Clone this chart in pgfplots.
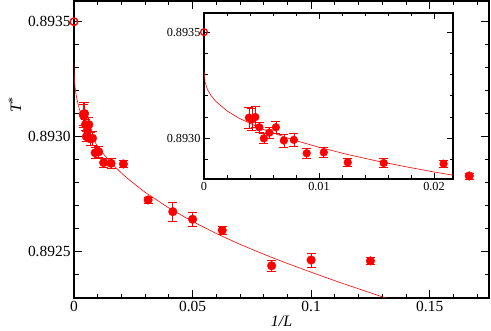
\documentclass[border=0pt]{standalone}
\usepackage{fontspec}
\setmainfont{Liberation Serif}
\usepackage{pgfplots}
\pgfplotsset{compat=1.18}
\usepackage{pgfplotstable}

% 1/L, T*, error
\pgfplotstableread{
x y e
0.003906 0.893098 0.00005
0.004167 0.893090 0.00005
0.004464 0.893101 0.00005
0.004808 0.893053 0.000024
0.005208 0.893001 0.000022
0.005682 0.893028 0.000025
0.00625  0.893053 0.00003
0.006944 0.892991 0.00003
0.007813 0.892994 0.00003
0.008929 0.892931 0.000023
0.010417 0.892935 0.000022
0.0125   0.892888 0.00002
0.015625 0.892885 0.00002
0.020833 0.892882 0.000015
0.03125  0.892726 0.000013
0.041667 0.892675 0.00004
0.05     0.892642 0.00003
0.0625   0.892594 0.000017
0.083333 0.892440 0.000025
0.1      0.892465 0.00003
0.125    0.892461 0.000017
0.166667 0.892830 0.000013
}\simdata

% fitted curve
\pgfplotstableread{
x y
0      0.893320
0.0001 0.893263
0.0003 0.893231
0.0006 0.893203
0.001  0.893176
0.002  0.893130
0.003  0.893097
0.005  0.893046
0.0075 0.892998
0.01   0.892959
0.0125 0.892925
0.015  0.892895
0.0175 0.892868
0.02   0.892843
0.0225 0.892820
0.025  0.892799
0.03   0.892759
0.04   0.892691
0.05   0.892632
0.06   0.892580
0.07   0.892533
0.08   0.892490
0.09   0.892450
0.1    0.892412
0.11   0.892375
0.12   0.892340
0.13   0.892305
0.14   0.892270
}\fitdata

\pgfplotsset{
  grace/.style={
    scale only axis,
    scaled ticks=false,
    tick align=inside,
    axis line style={line width=1.5bp},
    tick style={black, line width=1bp},
    clip mode=individual,
    axis background/.style={fill=white},
  },
}

\begin{document}
\begin{tikzpicture}
\useasboundingbox (0,0) rectangle (491bp,331bp);
% main axis
\begin{axis}[grace,
  at={(74bp,33bp)}, anchor=south west,
  width=415bp, height=297bp,
  xmin=0, xmax=0.175, ymin=0.8923, ymax=0.89359,
  xtick={0,0.05,0.1,0.15}, xticklabels={0,0.05,0.1,0.15},
  minor xtick={0.01,0.02,0.03,0.04,0.06,0.07,0.08,0.09,0.11,0.12,0.13,0.14,0.16,0.17},
  ytick={0.8925,0.893,0.8935}, yticklabels={0.8925,0.8930,0.8935},
  minor ytick={0.8924,0.8926,0.8927,0.8928,0.8929,0.8931,0.8932,0.8933,0.8934},
  major tick length=8bp, minor tick length=4.5bp,
  tick label style={font=\fontsize{15.5}{16}\selectfont},
  label style={font=\fontsize{16}{17}\selectfont},
  xlabel={\textit{1/L}},
  xlabel style={yshift=3bp},
  ylabel={\textit{T}\raisebox{0.3em}{\fontsize{12}{12}\selectfont *}},
  ylabel style={at={(ticklabel cs:0.65)}},
]
\addplot[red, line width=0.6bp, no marks] table[x=x, y=y] {\fitdata};
\addplot[red, only marks, mark=*, mark size=4.3bp,
  error bars/.cd, y dir=both, y explicit,
  error bar style={red, line width=0.7bp},
  error mark options={red, rotate=90, mark size=4.5bp, line width=0.7bp}]
  table[x=x, y=y, y error=e] {\simdata};
\addplot[red, only marks, mark=o, mark size=3.8bp, line width=1.4bp]
  coordinates {(0,0.8935)};
\end{axis}

% inset
\begin{axis}[grace,
  at={(204bp,152bp)}, anchor=south west,
  width=249bp, height=166bp,
  xmin=0, xmax=0.02165, ymin=0.89281, ymax=0.89359,
  xtick={0,0.01,0.02}, xticklabels={0,0.01,0.02},
  minor xtick={0.002,0.004,0.006,0.008,0.012,0.014,0.016,0.018},
  ytick={0.893,0.8935}, yticklabels={0.8930,0.8935},
  minor ytick={0.8929,0.8931,0.8932,0.8933,0.8934},
  major tick length=6bp, minor tick length=3.5bp,
  tick label style={font=\fontsize{12.3}{13}\selectfont},
]
\addplot[red, line width=0.6bp, no marks] table[x=x, y=y] {\fitdata};
\addplot[red, only marks, mark=*, mark size=3.9bp,
  restrict x to domain=0:0.0216,
  error bars/.cd, y dir=both, y explicit,
  error bar style={red, line width=0.7bp},
  error mark options={red, rotate=90, mark size=4.5bp, line width=0.7bp}]
  table[x=x, y=y, y error=e] {\simdata};
\addplot[red, only marks, mark=o, mark size=3.4bp, line width=1.3bp]
  coordinates {(0,0.8935)};
\end{axis}
\end{tikzpicture}
\end{document}
